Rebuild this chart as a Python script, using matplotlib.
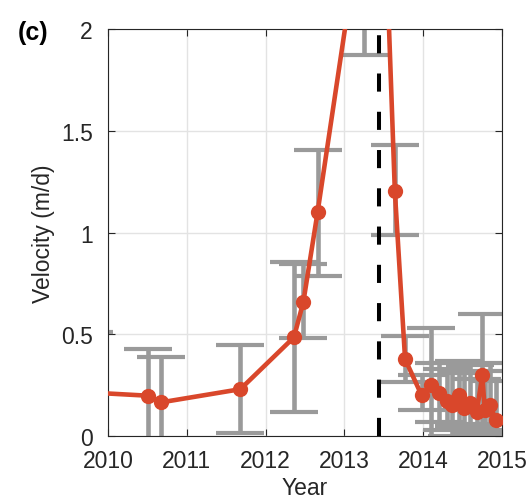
import matplotlib
matplotlib.use("Agg")
import matplotlib.pyplot as plt
import numpy as np

plt.rcParams['font.family'] = ['Liberation Sans', 'DejaVu Sans']

# Data (year, velocity m/d) with error bar top/bottom values
years = [2009.76, 2010.51, 2010.67, 2011.68, 2012.36, 2012.48, 2012.66,
         2013.25, 2013.46, 2013.64, 2013.77, 2013.98, 2014.10, 2014.20,
         2014.30, 2014.37, 2014.45, 2014.52, 2014.60, 2014.68, 2014.75,
         2014.78, 2014.85, 2014.92]
velocity = [0.214, 0.198, 0.165, 0.23, 0.485, 0.66, 1.10,
            2.63, 3.16, 1.205, 0.378, 0.20, 0.25, 0.21,
            0.17, 0.15, 0.20, 0.14, 0.16, 0.12, 0.30,
            0.13, 0.15, 0.08]
err_top = [0.51, 0.43, 0.387, 0.447, 0.855, 0.845, 1.407,
           3.40, 3.90, 1.43, 0.49, 0.30, 0.53, 0.36,
           0.33, 0.36, 0.37, 0.31, 0.35, 0.28, 0.60,
           0.32, 0.36, 0.27]
err_bottom = [-0.08, -0.05, -0.06, 0.015, 0.12, 0.48, 0.788,
              1.872, 2.40, 0.988, 0.265, 0.13, -0.05, 0.07,
              0.03, 0.00, 0.05, -0.02, 0.04, 0.01, 0.03,
              -0.02, 0.06, 0.01]
event_year = 2013.44

xticks = [2010, 2011, 2012, 2013, 2014, 2015]
yticks = [0, 0.5, 1, 1.5, 2]
ytick_labels = ['0', '0.5', '1', '1.5', '2']

years_a = np.array(years)
vel_a = np.array(velocity)
lower = vel_a - np.array(err_bottom)
upper = np.array(err_top) - vel_a

fig = plt.figure(figsize=(5.29, 5.02), dpi=100)
ax = fig.add_axes([0.204, 0.1295, 0.745, 0.8105])

ax.errorbar(years_a, vel_a, yerr=[lower, upper], fmt='none', ecolor='#9A9A9A',
            elinewidth=3.3, capsize=17.5, capthick=3.0, zorder=2)
ax.axvline(event_year, color='black', lw=2.9, linestyle=(0, (4.5, 5.0)), zorder=3)
ax.plot(years_a, vel_a, color='#D9472B', lw=3.3, marker='o', markersize=11,
        markeredgewidth=0, zorder=4)

ax.set_xlim(2010, 2015)
ax.set_ylim(0, 2)
ax.set_xticks(xticks)
ax.set_xticklabels([str(t) for t in xticks])
ax.set_yticks(yticks)
ax.set_yticklabels(ytick_labels)
ax.grid(True, color='#E3E3E3', lw=1.0, zorder=0)
ax.set_axisbelow(True)
ax.tick_params(direction='in', top=True, right=True, length=5, width=0.8,
               colors='#262626', labelsize=16.5, labelcolor='#262626', pad=9.5)
ax.tick_params(axis='y', pad=11)
for s in ax.spines.values():
    s.set_color('#262626')
    s.set_linewidth(0.8)

ax.set_xlabel('Year', fontsize=16.5, color='#262626', labelpad=3)
ax.set_ylabel('Velocity (m/d)', fontsize=16.5, color='#262626', labelpad=4)
fig.text(0.062, 0.935, '(c)', fontsize=18, fontweight='bold', color='black',
         ha='center', va='center')

fig.savefig('out.png', dpi=100)
